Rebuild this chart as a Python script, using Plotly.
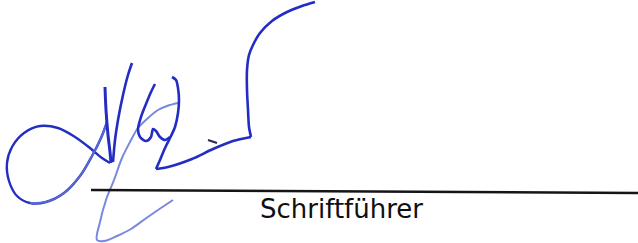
import plotly.graph_objects as go

# Signature strokes (x, y in pixel-space of the 638x243 canvas, y downward)
loop_x = [107, 101, 92, 80, 64, 46, 30, 17, 9, 7, 12, 24, 40, 58, 75, 90, 102, 110]
loop_y = [122, 138, 156, 176, 193, 202, 203, 196, 181, 163, 147, 133, 126, 128, 137, 148, 158, 163]
loop_light_x = [107, 101, 92, 80, 64, 46, 30]
loop_light_y = [122, 138, 156, 176, 193, 202, 203]

v1_x = [105, 106, 108, 110, 111]
v1_y = [87, 110, 135, 152, 163]
v2_x = [113, 115, 118, 123, 128, 132]
v2_y = [162, 140, 120, 95, 75, 63]

desc_x = [178, 167, 158, 148, 138, 130, 122, 114, 106, 100, 97, 104, 117, 131, 145, 158, 173]
desc_y = [103, 106, 110, 118, 128, 142, 158, 180, 200, 222, 240, 241, 236, 229, 219, 210, 200]

a_left_x = [155, 151, 146, 141, 138, 140, 146, 151, 153, 156, 160, 165, 170]
a_left_y = [84, 92, 104, 117, 129, 137, 141, 137, 129, 131, 137, 140, 137]

a_right_x = [172, 176, 178, 179, 178, 175, 171, 165, 160, 156]
a_right_y = [77, 80, 88, 100, 113, 127, 136, 148, 160, 169]

z_x = [156, 168, 192, 213, 233, 251]
z_y = [169, 167, 159, 149, 141, 137]

flourish_x = [251, 249, 248, 247, 247, 249, 253, 260, 272, 287, 302, 315]
flourish_y = [137, 127, 110, 90, 70, 55, 45, 33, 21, 12, 6, 2]

dash_x = [208, 217]
dash_y = [140, 143]

rule_x = [91, 638]
rule_y = [190, 193]

label_text = "Schriftführer"
label_x = 258
label_y = 209

dark = "rgb(35,45,195)"
light = "rgba(95,115,215,0.85)"

fig = go.Figure()

def stroke(xs, ys, color, width, smoothing=0.8):
    fig.add_trace(go.Scatter(x=xs, y=ys, mode="lines",
                             line=dict(color=color, width=width, shape="spline", smoothing=smoothing),
                             hoverinfo="skip", showlegend=False))

stroke(loop_x, loop_y, dark, 2.4, 1.0)
stroke(loop_light_x, loop_light_y, light, 2.0, 1.0)
stroke(v1_x, v1_y, dark, 3.0)
stroke(v2_x, v2_y, dark, 2.6)
stroke(desc_x, desc_y, light, 2.0, 1.0)
stroke(a_left_x, a_left_y, dark, 2.6)
stroke(a_right_x, a_right_y, dark, 2.6)
stroke(z_x, z_y, dark, 2.6)
stroke(flourish_x, flourish_y, dark, 2.6, 0.7)
stroke(dash_x, dash_y, "rgb(40,40,90)", 2.0)

fig.add_trace(go.Scatter(x=rule_x, y=rule_y, mode="lines",
                         line=dict(color="rgb(20,20,25)", width=2.5),
                         hoverinfo="skip", showlegend=False))

fig.add_annotation(x=label_x, y=label_y, text=label_text, showarrow=False,
                   xanchor="left", yanchor="middle",
                   font=dict(family="DejaVu Sans", size=26, color="rgb(15,15,15)"))

fig.update_layout(
    width=638, height=243,
    margin=dict(l=0, r=0, t=0, b=0),
    paper_bgcolor="white", plot_bgcolor="white",
    xaxis=dict(range=[0, 638], visible=False, fixedrange=True),
    yaxis=dict(range=[243, 0], visible=False, fixedrange=True),
)

fig.write_html("out.html", config={"displayModeBar": False},
               post_script="document.body.style.margin='0';document.body.style.overflow='hidden';")
